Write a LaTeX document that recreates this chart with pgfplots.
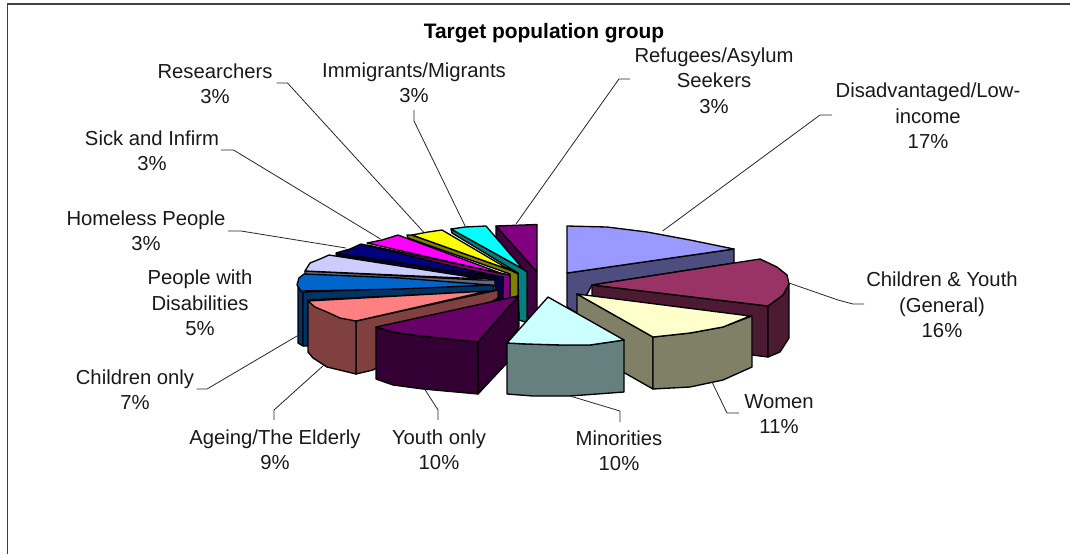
\documentclass[border=0pt]{standalone}
\usepackage{fontspec}
\setmainfont{Liberation Sans}
\usepackage{pgfplots}
\pgfplotsset{compat=1.18}

\definecolor{refT}{HTML}{800080}\definecolor{refS}{HTML}{400040}
\definecolor{immT}{HTML}{00FFFF}\definecolor{immS}{HTML}{008080}
\definecolor{resT}{HTML}{FFFF00}\definecolor{resS}{HTML}{808000}
\definecolor{sicT}{HTML}{FF00FF}\definecolor{sicS}{HTML}{800080}
\definecolor{homT}{HTML}{000080}\definecolor{homS}{HTML}{000040}
\definecolor{eldT}{HTML}{CCCCFF}\definecolor{eldS}{HTML}{666680}
\definecolor{disT}{HTML}{0066CC}\definecolor{disS}{HTML}{003366}
\definecolor{ageT}{HTML}{FF8080}\definecolor{ageS}{HTML}{804040}
\definecolor{youT}{HTML}{660066}\definecolor{youS}{HTML}{330033}
\definecolor{minT}{HTML}{CCFFFF}\definecolor{minS}{HTML}{668080}
\definecolor{lowT}{HTML}{9999FF}\definecolor{lowS}{HTML}{4D4D80}
\definecolor{chiT}{HTML}{993366}\definecolor{chiS}{HTML}{4D1A33}
\definecolor{womT}{HTML}{FFFFCC}\definecolor{womS}{HTML}{808066}

\pgfplotsset{
  face/.style={draw=black, line width=1pt, line join=round, fill=#1, mark=none},
  leader/.style={draw=black!85, line width=0.6pt, mark=none},
  frame/.style={draw=black!75, line width=1.4pt, mark=none},
}
\tikzset{lab/.style={anchor=center, align=center, inner sep=0pt, text=black!90,
  font=\fontsize{15.2}{19}\selectfont}}

\begin{document}
\begin{tikzpicture}
\begin{axis}[
  scale only axis, width=802.5pt, height=415.5pt,
  xmin=0, xmax=1070, ymin=0, ymax=554, y dir=reverse,
  hide axis,
]
% keeps the page as large as the whole axis
\addplot[draw=none, mark=none] coordinates {(0,0) (1070,554)};
% chart frame, only left and top show
\addplot[frame] coordinates {(7.5,554) (7.5,4) (1070,4)};

% Refugees/Asylum Seekers
\addplot[face=refS] coordinates {(496,226) (537,272) (537,313) (528,318) (496,240)} -- cycle;
\addplot[face=refT] coordinates {(496,226) (537,224.5) (537,272)} -- cycle;
% Immigrants/Migrants
\addplot[face=immS] coordinates {(451,229) (523,269) (527,272) (527,320) (525,322) (519,320) (518,273) (452,233)} -- cycle;
\addplot[face=immT] coordinates {(451,229) (465,227) (486,226) (523,269)} -- cycle;
% Researchers
\addplot[face=resS] coordinates {(407,235) (412,235) (510,270) (518,274) (518,296) (510,298) (510,274) (408,238)} -- cycle;
\addplot[face=resT] coordinates {(412,235) (428,232) (442,230) (510,270)} -- cycle;
% Sick and Infirm
\addplot[face=sicS] coordinates {(367,245) (500,273) (510,275) (510,298) (502,300) (503,277) (369,249)} -- cycle;
\addplot[face=sicT] coordinates {(367,243) (382,240) (398,235) (503,274)} -- cycle;
% Homeless People
\addplot[face=homS] coordinates {(336,254) (495,276) (503,277) (503,300) (495,303) (495,280) (337,257)} -- cycle;
\addplot[face=homT] coordinates {(336,253) (350,249) (361,244) (497,277)} -- cycle;
% People with Disabilities
\addplot[face=eldS] coordinates {(305,271) (480,280) (495,280) (495,286) (480,286) (305,276)} -- cycle;
\addplot[face=eldT] coordinates {(305,271) (310,263) (320,259) (329,255) (400,266) (483,279)} -- cycle;
% Children only
\addplot[face=disS] coordinates {(298,285) (301,291) (303,293) (303,346) (298,343)} -- cycle;
\addplot[face=disS] coordinates {(303,292) (493,285) (494,291) (308,300) (308,346) (303,346)} -- cycle;
\addplot[face=disT] coordinates {(304,274) (299,278) (297,285) (301,291) (400,289) (490,285) (400,278)} -- cycle;
% Ageing/The Elderly
\addplot[face=ageS] coordinates {(356,321) (498,290) (498,298) (373,370) (356,374)} -- cycle;
\addplot[face=ageS] coordinates {(308,301) (308,352) (313,358) (327,367) (356,374) (356,321)} -- cycle;
\addplot[face=ageT] coordinates {(308,301) (315,307) (327,312) (340,318) (356,321) (488,291)} -- cycle;
% Youth only
\addplot[face=youS] coordinates {(478,342) (518,296) (519,327) (508,343) (507,363) (478,394)} -- cycle;
\addplot[face=youS] coordinates {(376,327) (376,379) (393,385) (423,389) (478,394) (478,342) (440,338) (413,335) (393,332)} -- cycle;
\addplot[face=youT] coordinates {(376,327) (393,332) (413,335) (440,338) (478,342) (518,296)} -- cycle;
% Disadvantaged/Low-income
\addplot[face=lowS] coordinates {(567,273) (734,249) (734,263) (592,285) (577,313) (567,307)} -- cycle;
\addplot[face=lowT] coordinates {(567,226) (607,227) (647,232) (690,240) (734,249) (567,273)} -- cycle;
% Children & Youth (General)
\addplot[face=chiS] coordinates {(592,285) (768,306) (768,357) (752,355) (592,320)} -- cycle;
\addplot[face=chiS] coordinates {(768,306) (783,295) (789,284) (789,338) (780,352) (768,357)} -- cycle;
\addplot[face=chiT] coordinates {(592,285) (760,259) (777,267) (787,275) (789,284) (783,295) (768,306)} -- cycle;
% Women
\addplot[face=womS] coordinates {(577,294) (653,337) (653,389) (577,346)} -- cycle;
\addplot[face=womS] coordinates {(653,337) (690,333) (723,327) (752,316) (752,367) (723,380) (690,387) (653,389)} -- cycle;
\addplot[face=womT] coordinates {(577,294) (750,316) (723,327) (690,333) (653,337)} -- cycle;
% Minorities
\addplot[face=minS] coordinates {(507,343) (507,394) (533,396) (570,396) (624,392) (624,340) (590,345) (562,345) (527,344)} -- cycle;
\addplot[face=minT] coordinates {(507,343) (527,344) (562,345) (590,345) (624,340) (548,297)} -- cycle;

% leader lines
\addplot[leader] coordinates {(276.5,83) (287.5,83) (423.5,232)};
\addplot[leader] coordinates {(414,110) (414,121) (465.6,227)};
\addplot[leader] coordinates {(221,150) (233.5,150) (380.5,239)};
\addplot[leader] coordinates {(228,231) (241,231) (346,248)};
\addplot[leader] coordinates {(630,79) (619,79) (516,224)};
\addplot[leader] coordinates {(832,115) (820,115) (662.6,231)};
\addplot[leader] coordinates {(789,283) (838,300) (853,304) (864,304)};
\addplot[leader] coordinates {(712,382) (727,413) (739,413)};
\addplot[leader] coordinates {(570,396) (620,411) (620,422)};
\addplot[leader] coordinates {(424.6,389) (438,410) (438,420)};
\addplot[leader] coordinates {(324,365) (274,410) (274,420)};
\addplot[leader] coordinates {(297,336) (207,389) (196.6,389)};

% labels
\node[anchor=center, inner sep=0pt, text=black, font=\fontsize{15.7}{19}\selectfont\bfseries] at (axis cs:544,33) {Target population group};
\node[lab] at (axis cs:215,84) {Researchers\\3\%};
\node[lab] at (axis cs:414,83) {Immigrants/Migrants\\3\%};
\node[lab] at (axis cs:152,151) {Sick and Infirm\\3\%};
\node[lab] at (axis cs:146,231) {Homeless People\\3\%};
\node[lab] at (axis cs:200,303) {People with\\Disabilities\\5\%};
\node[lab] at (axis cs:135,390) {Children only\\7\%};
\node[lab] at (axis cs:275,450) {Ageing/The Elderly\\9\%};
\node[lab] at (axis cs:439,450) {Youth only\\10\%};
\node[lab] at (axis cs:619,451) {Minorities\\10\%};
\node[lab] at (axis cs:779,414) {Women\\11\%};
\node[lab] at (axis cs:942,305) {Children \& Youth\\(General)\\16\%};
\node[lab] at (axis cs:928,116) {Disadvantaged/Low-\\income\\17\%};
\node[lab] at (axis cs:714,80.5) {Refugees/Asylum\\Seekers\\3\%};
\end{axis}
\end{tikzpicture}
\end{document}
